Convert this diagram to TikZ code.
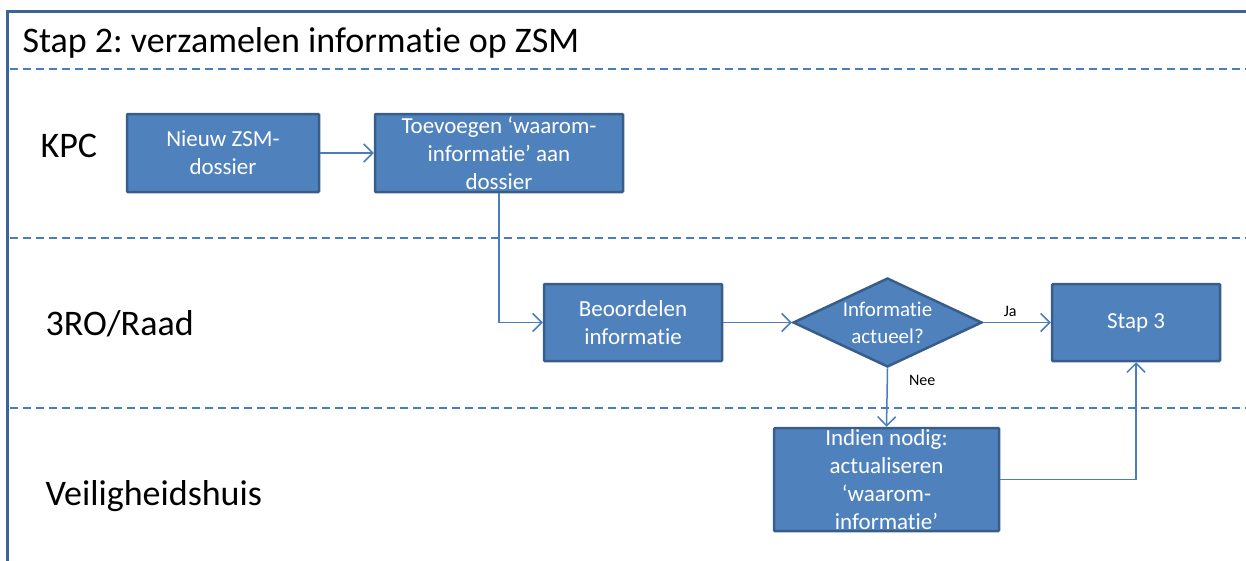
\documentclass[tikz,border=0pt]{standalone}
\usepackage{fontspec}
\setmainfont{Carlito}[Ligatures=NoCommon]
\usetikzlibrary{shapes.geometric,arrows.meta}
\definecolor{boxblue}{RGB}{79,129,189}
\definecolor{boxedge}{RGB}{56,93,138}
\definecolor{frameblue}{RGB}{62,100,150}
\definecolor{lineblue}{RGB}{74,126,187}
\frenchspacing
\begin{document}
\begin{tikzpicture}[x=1pt,y=-1pt,
    stapbox/.style={draw=boxedge,line width=2.5pt,fill=boxblue,text=white,align=center,
      font=\fontsize{23}{28}\selectfont,inner sep=0pt,rounded corners=1pt},
    keuze/.style={diamond,aspect=2.1,draw=boxedge,line width=2.5pt,fill=boxblue,text=white,
      align=center,font=\fontsize{21}{27}\selectfont,inner sep=0pt,minimum width=189pt,minimum height=89pt},
    pijl/.style={draw=lineblue,line width=1.5pt,-{Straight Barb[length=9pt,width=18pt]}},
    baan/.style={font=\fontsize{36}{40}\selectfont,anchor=base west},
    klein/.style={font=\fontsize{16}{18}\selectfont,inner sep=0pt}]
    \useasboundingbox (0,0) rectangle (1246,560);
    \draw[frameblue,line width=3pt] (7,562) -- (7,11) -- (1250,11);
    \foreach \y in {69,238,408}{
      \draw[lineblue,line width=2pt,dash pattern=on 8pt off 5pt] (10,\y) -- (1246,\y);}
    \node[anchor=base west,font=\fontsize{36}{40}\selectfont] (titel) at (19,52) {Stap 2: verzamelen informatie op ZSM};
    % banen
    \node[baan] (kpc) at (37,157) {KPC};
    \node[baan] (raad) at (42,335) {3RO/Raad};
    \node[baan] (vhuis) at (42,505) {Veiligheidshuis};
    % stappen
    \node[stapbox,minimum width=192pt,minimum height=78pt] (nieuw) at (223,153) {Nieuw ZSM-\\dossier};
    \node[stapbox,minimum width=248pt,minimum height=78pt] (toevoegen) at (499,153) {Toevoegen ‘waarom-\\informatie’ aan\\dossier};
    \node[stapbox,minimum width=178pt,minimum height=77pt] (beoordelen) at (633,322.5) {Beoordelen\\informatie};
    \node[keuze] (actueel) at (887.5,322.5) {Informatie\\actueel?};
    \node[stapbox,minimum width=168pt,minimum height=77pt] (stap3) at (1136,322.5) {Stap 3};
    \node[stapbox,minimum width=225pt,minimum height=103pt] (indien) at (886.5,479.5) {Indien nodig:\\actualiseren\\‘waarom-\\informatie’};
    \draw[pijl] (nieuw) -- (toevoegen);
    \draw[pijl] (toevoegen.south) |- (beoordelen.west);
    \draw[pijl] (beoordelen) -- (actueel);
    \draw[pijl] (actueel) -- node[klein,pos=0.4,above=5pt] (ja) {Ja} (stap3);
    \draw[pijl] (actueel.south) -- node[klein,pos=0.2,right=21pt] (nee) {Nee} (indien.north);
    \draw[pijl] (indien.east) -| (stap3.south);
\end{tikzpicture}
\end{document}
